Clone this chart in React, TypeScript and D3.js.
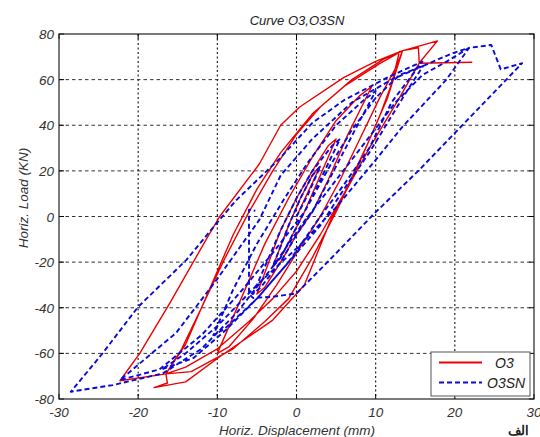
import React from 'react';
import * as d3 from 'd3';

const xTicks = [-30, -20, -10, 0, 10, 20, 30];
const yTicks = [-80, -60, -40, -20, 0, 20, 40, 60, 80];
const seriesNames = ['O3', 'O3SN'];
const chartTitle = 'Curve O3,O3SN';
const xTitle = 'Horiz. Displacement (mm)';
const yTitle = 'Horiz. Load (KN)';
const cornerMark = 'الف';

// O3 (red, solid): displacement (mm), load (kN)
const o3Points: [number, number][] = [
  [0, 0], [1.5, 11], [3, 22], [2, 18], [0.5, 8], [-1, -4], [-3, -22], [-2, -18], [-0.5, -8],
  [1, 2], [3, 18], [5, 34], [4, 31], [2, 20], [0, 8], [-2, -6], [-5, -34], [-4, -31], [-2, -20], [0, -8],
  [2, 2], [4, 16], [6.5, 36], [8.5, 50], [9.5, 57], [8, 53], [5, 42], [2, 26], [-1, 8], [-4, -12], [-7, -36], [-10, -60], [-8.5, -57], [-5.5, -45], [-2.5, -30], [0, -16],
  [3, 0], [5.5, 16], [8, 34], [10.5, 52], [12.5, 65], [13.4, 72.7], [11, 69], [7, 60], [3, 48], [0, 36], [-3, 20], [-6, 2], [-9, -18], [-12, -40], [-14.5, -58], [-16.5, -69], [-14, -66], [-10, -58], [-6, -46], [-3, -36], [0, -24],
  [3, -8], [6, 10], [9, 32], [11.5, 52], [13.4, 72.7], [10.5, 67], [6, 57], [2, 45], [-2, 28], [-5, 12], [-8, -8], [-11, -32], [-14, -56], [-16.5, -69], [-13.3, -68], [-8, -58], [-4, -46], [-1, -36],
  [2, -18], [5, 2], [8, 24], [10.5, 44], [12, 58], [13, 72.3], [17.8, 77], [15.5, 67.3], [15.4, 74], [13.4, 72.7],
  [10, 68], [6, 61], [0.4, 48], [-2, 40], [-4.7, 23], [-9.7, 0], [-11.4, -10], [-16, -38], [-19.8, -60], [-22.3, -72],
  [-16.5, -69], [-16.3, -73], [-18, -75], [-14, -72.5], [-9.7, -61.5], [-3, -45.4], [1, -30], [4.5, 0], [9.2, 30], [13, 52], [15.5, 67.2], [22.2, 67.6],
];

// O3SN (blue, dashed): displacement (mm), load (kN)
const o3snPoints: [number, number][] = [
  [0, 0], [1.5, 10], [3, 22], [2, 18], [0.5, 8], [-1, -4], [-3, -22], [-2, -18], [-0.5, -8],
  [1, 2], [3, 16], [5.5, 34], [4.5, 31], [2, 20], [0, 8], [-2, -6], [-5.5, -34], [-4.5, -31], [-2, -20], [0, -8],
  [2, 2], [5, 22], [8, 42], [10, 55], [8.5, 51], [5, 40], [1.5, 24], [-1.5, 8], [-5, -12], [-8, -32], [-10.5, -52], [-9, -49], [-5, -36], [-1, -20],
  [3, -4], [6, 12], [9.2, 28], [12, 44], [14.5, 58], [16, 66], [12, 60], [7, 50], [2, 34], [-2, 18], [-4.7, -1.5], [-10.1, -27.8], [-15.2, -51], [-22.3, -71.7],
  [-17.3, -67], [-12, -52], [-7.2, -33.6], [-3, -16], [1, 2], [4.2, 22], [7, 38], [10, 52], [13, 62], [16, 66], [19.7, 71.6], [21.8, 73.9],
  [18.9, 59.9], [13.4, 39.4], [10, 24.8], [5, 4], [0, -14], [-5, -30], [-10, -48], [-14, -60], [-17, -67],
  [-13, -62], [-9, -50], [-5, -36], [-1, -20], [3, 0], [6, 14], [9.2, 30], [12, 50], [15.9, 67.9],
  [11.7, 61.3], [6, 51], [2, 41], [-2.1, 25.5], [-7.6, 7.2], [-10.1, -3], [-13.9, -19], [-20, -39.6], [-24.5, -60], [-28.5, -76.8],
  [-23.2, -73.9], [-16.9, -68.8], [-12, -58], [-7.5, -42], [-3, -22], [1, -2], [5, 16], [9, 34], [12.5, 50], [15.9, 62], [19, 68], [21.8, 73.9], [24.6, 75.2], [25.8, 64.5], [28.5, 67.2],
  [15.5, 20.4], [9.85, 1.4], [4.2, -19], [0, -33.7], [-3, -35.2], [-5.5, -35.7], [-6, -34], [-6, 3], [-5.2, 2.5],
];

export default function App() {
  const W = 540, H = 437;
  const L = 59, R = 534, T = 34, B = 399;
  const x = d3.scaleLinear().domain([-30, 30]).range([L, R]);
  const y = d3.scaleLinear().domain([-80, 80]).range([B, T]);
  const line = d3.line<[number, number]>().x(d => x(d[0])).y(d => y(d[1]));
  const font = "'Liberation Sans', Arial, Helvetica, sans-serif";
  const red = '#ee0000';
  const blue = '#0a0ad8';
  const tickLen = 5;

  return (
    <svg width={W} height={H} style={{ position: 'absolute', left: 0, top: 0, background: '#fff' }}
      fontFamily={font}>
      <rect x={0} y={0} width={W} height={H} fill="#fff" />
      <defs>
        <clipPath id="plotClip"><rect x={L} y={T} width={R - L} height={B - T} /></clipPath>
      </defs>
      {xTicks.filter(t => t > -30 && t < 30).map(t => (
        <line key={'gx' + t} x1={x(t)} x2={x(t)} y1={T} y2={B} stroke="#111" strokeWidth={1.1} strokeDasharray="2,2.5" />
      ))}
      {yTicks.filter(t => t > -80 && t < 80).map(t => (
        <line key={'gy' + t} x1={L} x2={R} y1={y(t)} y2={y(t)} stroke="#333" strokeWidth={1} strokeDasharray="3.5,3" />
      ))}
      <g clipPath="url(#plotClip)">
        <path d={line(o3Points) || ''} fill="none" stroke={red} strokeWidth={1.4} strokeLinejoin="round" />
        <path d={line(o3snPoints) || ''} fill="none" stroke={blue} strokeWidth={1.9} strokeDasharray="5,3" strokeLinejoin="round" />
      </g>
      {xTicks.map(t => (
        <g key={'tx' + t}>
          <line x1={x(t)} x2={x(t)} y1={B} y2={B - tickLen} stroke="#000" />
          <line x1={x(t)} x2={x(t)} y1={T} y2={T + tickLen} stroke="#000" />
          <text x={x(t)} y={417} textAnchor="middle" fontSize={13.5} fontStyle="italic" fill="#333">{t}</text>
        </g>
      ))}
      {yTicks.map(t => (
        <g key={'ty' + t}>
          <line x1={L} x2={L + tickLen} y1={y(t)} y2={y(t)} stroke="#000" />
          <line x1={R} x2={R - tickLen} y1={y(t)} y2={y(t)} stroke="#000" />
          <text x={54} y={y(t) + 5} textAnchor="end" fontSize={13.5} fontStyle="italic" fill="#333">{t}</text>
        </g>
      ))}
      <rect x={L} y={T} width={R - L} height={B - T} fill="none" stroke="#222" strokeWidth={1.2} />
      <text x={297} y={25} textAnchor="middle" fontSize={13} fontStyle="italic" fill="#222">{chartTitle}</text>
      <text x={297} y={435} textAnchor="middle" fontSize={13.5} fontStyle="italic" fill="#333">{xTitle}</text>
      <text transform="translate(28,198) rotate(-90)" textAnchor="middle" fontSize={13.5} fontStyle="italic" fill="#333">{yTitle}</text>
      <text x={518} y={435} textAnchor="middle" fontSize={13} fontWeight="bold" fill="#222">{cornerMark}</text>
      <g>
        <rect x={431} y={352} width={99} height={44} fill="#fff" stroke="#555" strokeWidth={1} />
        <line x1={439} x2={482} y1={362.5} y2={362.5} stroke={red} strokeWidth={2} />
        <text x={495} y={368} fontSize={14} fontStyle="italic" fill="#222">{seriesNames[0]}</text>
        <line x1={439} x2={482} y1={382.5} y2={382.5} stroke={blue} strokeWidth={2} strokeDasharray="5,3" />
        <text x={487} y={388} fontSize={14} fontStyle="italic" fill="#222">{seriesNames[1]}</text>
      </g>
    </svg>
  );
}
